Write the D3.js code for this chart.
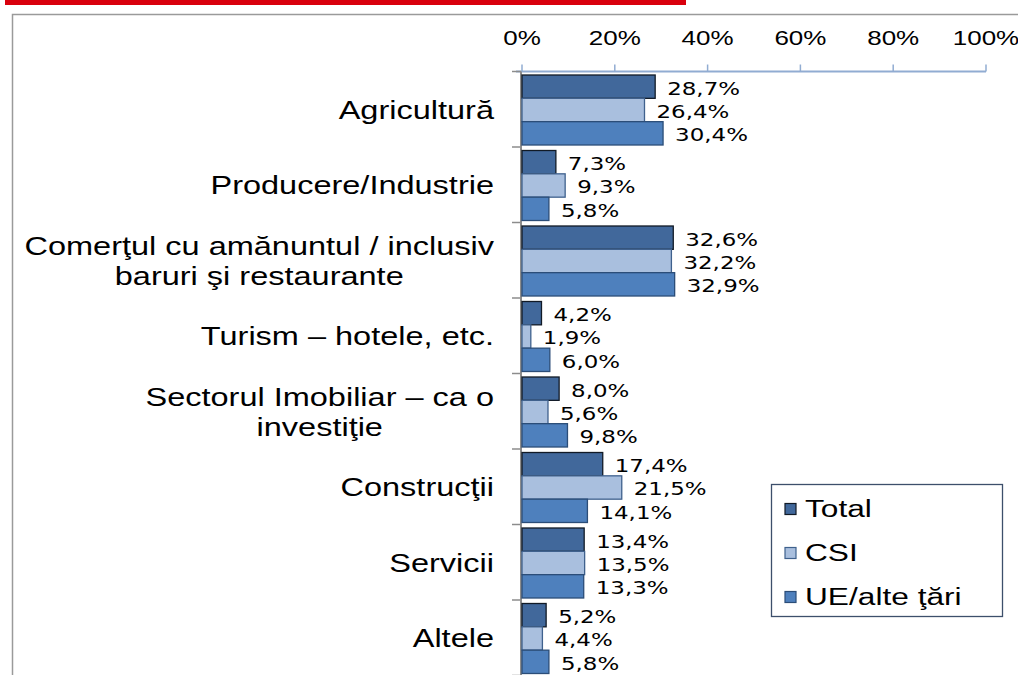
<!DOCTYPE html>
<html><head><meta charset="utf-8">
<script src="https://cdn.jsdelivr.net/npm/d3@7"></script>
<style>body{margin:0;background:#fff;} svg{display:block;}</style>
</head><body>
<svg id="c" width="1018" height="675"></svg>
<script>
const categories = [
  ["Agricultură"],
  ["Producere/Industrie"],
  ["Comerţul cu amănuntul / inclusiv", "baruri şi restaurante"],
  ["Turism – hotele, etc."],
  ["Sectorul Imobiliar – ca o", "investiţie"],
  ["Construcţii"],
  ["Servicii"],
  ["Altele"]
];
const seriesNames = ["Total", "CSI", "UE/alte ţări"];
const totalValues = [28.7, 7.3, 32.6, 4.2, 8.0, 17.4, 13.4, 5.2];
const csiValues   = [26.4, 9.3, 32.2, 1.9, 5.6, 21.5, 13.5, 4.4];
const ueValues    = [30.4, 5.8, 32.9, 6.0, 9.8, 14.1, 13.3, 5.8];
const tickValues  = [0, 20, 40, 60, 80, 100];

const fills   = ["#41689b", "#a9bfde", "#4e80bd"];
const strokes = ["#111a26", "#3f618d", "#2b4d78"];
const SX = 1.42;

const svg = d3.select("#c");
const seriesValues = [totalValues, csiValues, ueValues];
const catIdx = categories.map((d, i) => i);

// decoration: red stripe and frame
svg.append("rect").attr("x", 5).attr("y", 0).attr("width", 681).attr("height", 5).attr("fill", "#d9000d");
svg.append("path").attr("d", "M12.5,675 L12.5,14.5 L1018,14.5").attr("fill", "none").attr("stroke", "#9a9a9a").attr("stroke-width", 1.5);

const x = d3.scaleLinear().domain([0, 100]).range([522, 986]);
const y = d3.scaleBand().domain(catIdx).range([71.5, 675.5]).paddingInner(0).paddingOuter(0);
const ys = d3.scaleBand().domain([0, 1, 2]).range([3.5, 73.5]);

// top axis
const ax = svg.append("g").attr("transform", "translate(0,71.5)");
ax.append("line").attr("x1", 516).attr("x2", x(100)).attr("y1", 0).attr("y2", 0).attr("stroke", "#91acd2").attr("stroke-width", 2);
ax.selectAll("line.t").data(tickValues).join("line").attr("class", "t")
  .attr("x1", d => x(d)).attr("x2", d => x(d)).attr("y1", 0).attr("y2", -7)
  .attr("stroke", "#91acd2").attr("stroke-width", 1.5);
svg.selectAll("text.tick").data(tickValues).join("text").attr("class", "tick")
  .attr("transform", d => `translate(${x(d)},38) scale(1.3,1)`)
  .attr("text-anchor", "middle").attr("dominant-baseline", "central")
  .attr("font-family", "'Liberation Sans Narrow', 'Liberation Sans', Arial, sans-serif")
  .attr("font-size", 20).attr("fill", "#000")
  .text(d => d + "%");

// left axis
svg.append("line").attr("x1", 521).attr("x2", 521).attr("y1", 71.5).attr("y2", 675).attr("stroke", "#8c8c8c").attr("stroke-width", 2);
svg.selectAll("line.yt").data(d3.range(categories.length + 1)).join("line").attr("class", "yt")
  .attr("x1", 512).attr("x2", 521)
  .attr("y1", d => d < categories.length ? y(d) : y(categories.length - 1) + y.bandwidth())
  .attr("y2", d => d < categories.length ? y(d) : y(categories.length - 1) + y.bandwidth())
  .attr("stroke", "#8c8c8c").attr("stroke-width", 1.5);

// bars
const groups = svg.selectAll("g.cat").data(catIdx).join("g").attr("class", "cat")
  .attr("transform", d => `translate(0,${y(d)})`);
seriesValues.forEach((vals, s) => {
  groups.append("rect")
    .attr("x", x(0)).attr("y", ys(s))
    .attr("width", d => x(vals[d]) - x(0)).attr("height", ys.bandwidth())
    .attr("fill", fills[s]).attr("stroke", strokes[s]).attr("stroke-width", 1.3);
  groups.append("text")
    .attr("transform", d => `translate(${x(vals[d]) + 12},${ys(s) + ys.bandwidth() / 2 + 2}) scale(1.35,1)`)
    .attr("dominant-baseline", "central")
    .attr("font-family", "'DejaVu Sans', Verdana, sans-serif")
    .attr("font-size", 17).attr("fill", "#000")
    .text(d => vals[d].toFixed(1).replace(".", ",") + "%");
});

// category labels
categories.forEach((lines, i) => {
  const cy = y(i) + y.bandwidth() / 2 + 1;
  const g = svg.append("g").attr("transform", `translate(494,${cy}) scale(1.3,1)`);
  const n = lines.length;
  const ts = lines.map((t, k) => g.append("text")
    .attr("y", (k - (n - 1) / 2) * 30)
    .attr("dominant-baseline", "central")
    .attr("font-family", "'Liberation Sans', Arial, sans-serif")
    .attr("font-size", 25).attr("fill", "#000").text(t));
  const w = d3.max(ts, t => t.node().getComputedTextLength());
  ts.forEach(t => t.attr("text-anchor", "middle").attr("x", -w / 2));
});

// legend
const lg = svg.append("g");
lg.append("rect").attr("x", 771.5).attr("y", 484.5).attr("width", 231).attr("height", 132)
  .attr("fill", "#fff").attr("stroke", "#3d4f6b").attr("stroke-width", 1.3);
const ly = d3.scalePoint().domain([0, 1, 2]).range([509, 597]);
seriesNames.forEach((nm, s) => {
  lg.append("rect").attr("x", 785).attr("y", ly(s) - 5.5).attr("width", 11).attr("height", 11)
    .attr("fill", fills[s]).attr("stroke", strokes[s]).attr("stroke-width", 1.2);
  lg.append("text").attr("transform", `translate(805,${ly(s)}) scale(1.32,1)`)
    .attr("dominant-baseline", "central")
    .attr("font-family", "'Liberation Sans', Arial, sans-serif")
    .attr("font-size", 24).attr("fill", "#000").text(nm);
});
</script>
</body></html>
